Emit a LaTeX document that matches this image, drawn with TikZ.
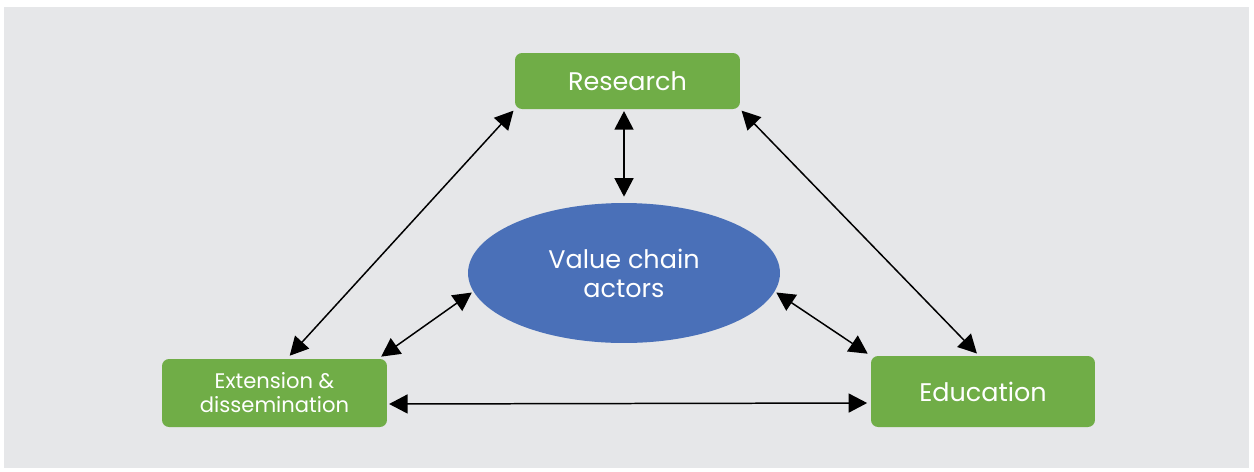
\documentclass[tikz,border=0pt]{standalone}
\usepackage{fontspec}
\setmainfont{Poppins}
\usepackage{tikz}
\usetikzlibrary{arrows.meta,shapes.geometric}

\definecolor{panel}{HTML}{E6E7E9}
\definecolor{leaf}{HTML}{70AD47}
\definecolor{chain}{HTML}{4A70B8}

\begin{document}
\begin{tikzpicture}[
  x=0.02cm, y=-0.02cm,
  font=\fontsize{14.5}{16}\selectfont,
  >={Triangle[length=3.7mm,width=3.8mm]},
  gbox/.style={fill=leaf, rounded corners=4pt, text=white, align=center,
               minimum width=4.5cm, inner sep=0pt},
  actor/.style={ellipse, fill=chain, text=white, align=center,
                minimum width=6.24cm, minimum height=2.8cm, inner sep=0pt},
  link/.style={<->, line width=0.85pt, shorten <=1pt, shorten >=2pt}
]
\fill[white] (0,0) rectangle (1254,471);
\fill[panel] (4,7) rectangle (1249,468);

\node[gbox, minimum height=1.12cm] (res) at (627.5,81) {Research};
\node[gbox, minimum height=1.36cm, font=\fontsize{12}{13.6}\selectfont]
  (ext) at (274.5,393) {Extension \&\\dissemination};
\node[gbox, minimum height=1.42cm, minimum width=4.48cm] (edu) at (983,391.5) {Education};
\node[actor, font=\fontsize{14.5}{16.5}\selectfont] (vca) at (624,273) {Value chain\\actors};

\draw[link, shorten >=0.12cm] (vca.north |- res.south) -- (vca.north);
\draw[link, shorten >=0.08cm] (res.south west) -- ([xshift=0.25cm]ext.north);
\draw[link, shorten >=0.06cm] (res.south east) -- ([xshift=-0.08cm]edu.north);
\draw[link] (vca.187) -- ([xshift=-0.18cm]ext.north east);
\draw[link] (vca.353) -- (edu.north west);
\draw[link] ([yshift=-0.22cm]ext.east) -- ([yshift=-0.23cm]edu.west);
\end{tikzpicture}
\end{document}
